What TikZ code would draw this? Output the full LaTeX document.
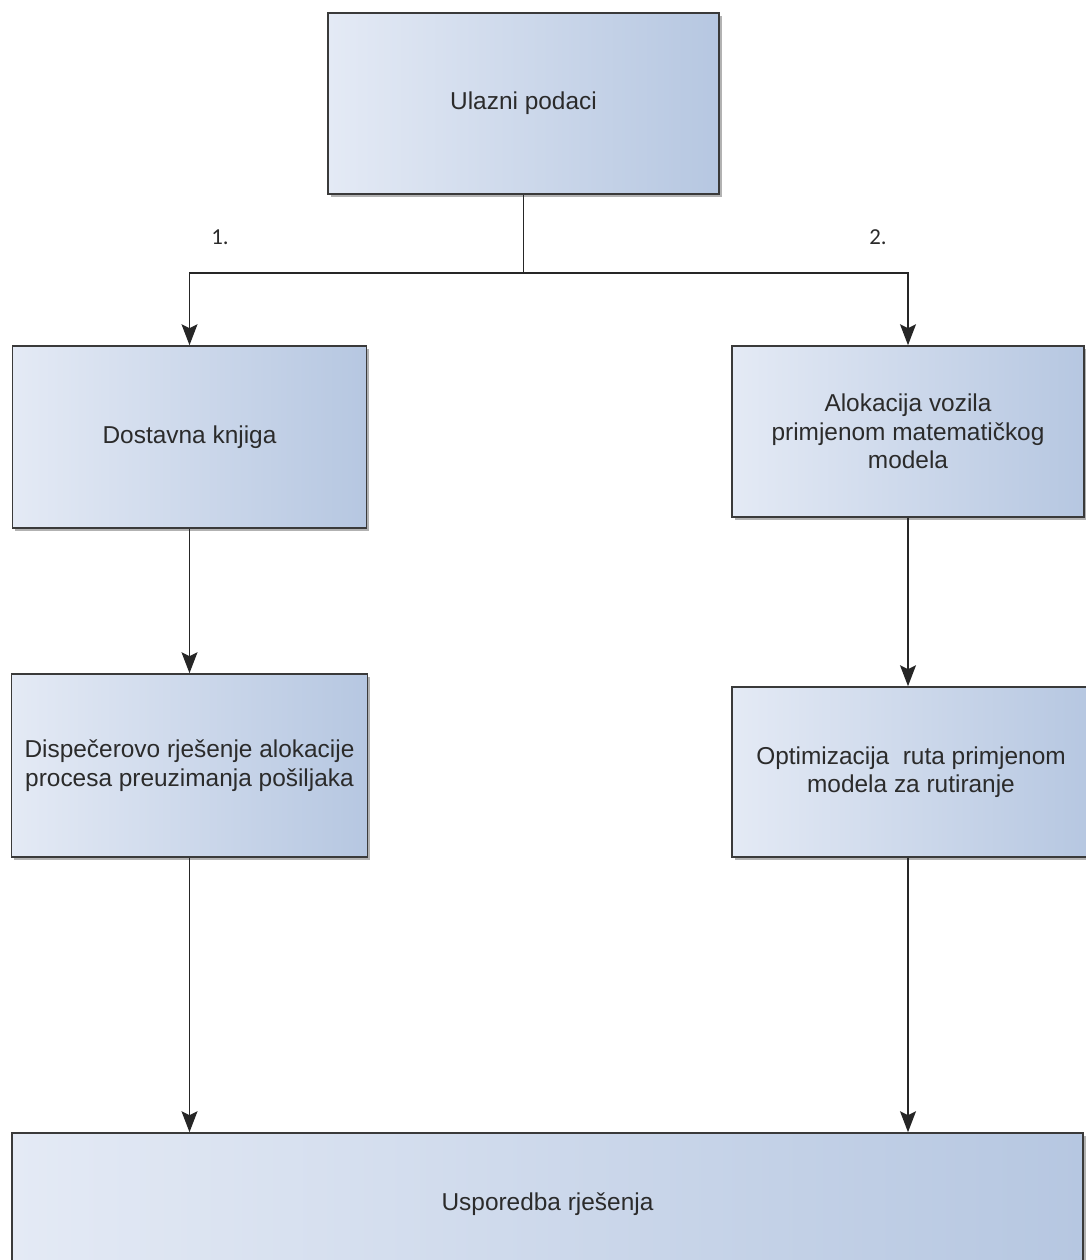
\documentclass[tikz,border=0pt]{standalone}
\usepackage{fontspec}
\setmainfont{Liberation Sans}
\newfontfamily\brojfont{Carlito}
\usepackage{xcolor}
\usetikzlibrary{arrows.meta,positioning,shadows}

\definecolor{boxleft}{HTML}{E4EAF5}
\definecolor{boxright}{HTML}{B6C7E1}
\definecolor{edge}{HTML}{3A3A3A}
\definecolor{ink}{HTML}{2B2B2B}

\begin{document}
\begin{tikzpicture}[
  font=\fontsize{13.9}{16.2}\selectfont,
  box/.style={draw=edge, line width=0.9pt, align=center, text=ink, inner sep=0pt,
    left color=boxleft, right color=boxright,
    drop shadow={shadow xshift=1.6pt, shadow yshift=-1.6pt, opacity=0.3, fill=black}},
  arr/.style={-{Stealth[length=4.2mm, width=3.2mm, inset=0.8mm]}, line width=0.8pt, draw=black!85},
  lbl/.style={font=\brojfont\fontsize{13}{15}\selectfont, text=ink}
]
  \clip (0,0) rectangle (21.72,25.2);

  % input
  \node[box, minimum width=7.82cm, minimum height=3.62cm] (ulaz) at (10.47,23.13) {Ulazni podaci};
  \coordinate (razdvoj) at (10.47,19.74);

  % variant 1
  \node[box, minimum width=7.08cm, minimum height=3.64cm] (knjiga) at (3.79,16.46) {Dostavna knjiga};
  \node[box, minimum width=7.12cm, minimum height=3.66cm] (dispecer) at (3.79,9.89)
    {Dispečerovo rješenje alokacije\\procesa preuzimanja pošiljaka};

  % variant 2
  \node[box, minimum width=7.04cm, minimum height=3.42cm] (alokacija) at (18.16,16.57)
    {Alokacija vozila\\primjenom matematičkog\\modela};
  \node[box, minimum width=7.16cm, minimum height=3.40cm] (ruta) at (18.22,9.76)
    {Optimizacija \ ruta primjenom\\modela za rutiranje};

  % comparison
  \node[box, minimum width=21.42cm, minimum height=2.84cm] (usporedba) at (10.95,1.12) {Usporedba rješenja};

  \draw[line width=0.8pt, black!85] (ulaz) -- (razdvoj);
  \draw[arr] (razdvoj) -| (knjiga);
  \draw[arr] (razdvoj) -| (alokacija);
  \draw[arr] (knjiga) -- (dispecer);
  \draw[arr] (alokacija.south) -- (alokacija.south |- ruta.north);
  \draw[arr] (dispecer.south) -- (dispecer.south |- usporedba.north);
  \draw[arr] (alokacija.south |- ruta.south) -- (alokacija.south |- usporedba.north);

  \node[lbl] (prvi) at (4.4,20.46) {1.};
  \node[lbl] (drugi) at (17.56,20.46) {2.};
\end{tikzpicture}
\end{document}
